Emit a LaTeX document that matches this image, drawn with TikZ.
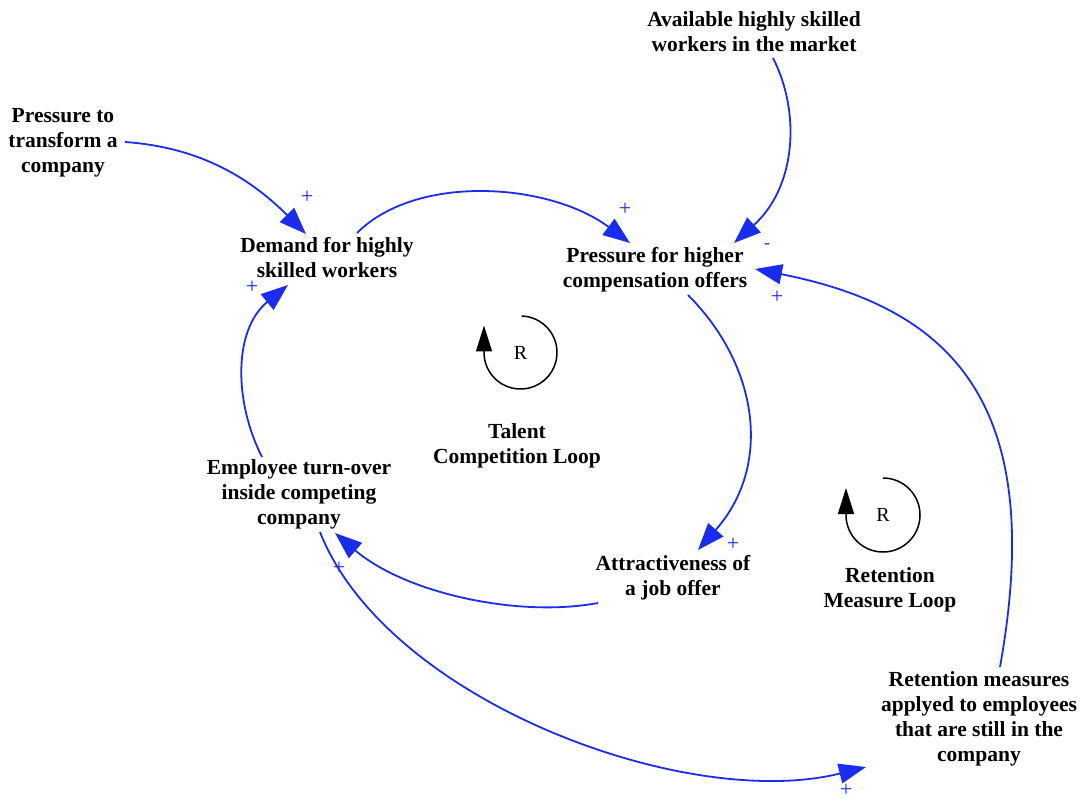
\documentclass[tikz,border=0pt]{standalone}
\usepackage{fontspec}
\setmainfont{Liberation Serif}
\usetikzlibrary{arrows.meta}
\definecolor{linkblue}{RGB}{25,45,240}
\begin{document}
\begin{tikzpicture}[x=1pt,y=-1pt,
  var/.style={font=\fontsize{21.5}{25}\selectfont\bfseries, align=center, inner sep=0pt},
  link/.style={draw=linkblue, line width=1.8pt, -{Triangle[length=27pt,width=20pt]}},
  sign/.style={text=linkblue, font=\fontsize{22}{22}\selectfont, inner sep=0pt},
  loopsym/.style={draw=black, line width=1.5pt, -{Triangle[length=26pt,width=16pt]}},
  loopletter/.style={font=\fontsize{20}{20}\selectfont, inner sep=0pt}]
\useasboundingbox (0,0) rectangle (1081,799);
\fill[white] (0,0) rectangle (1081,799);

% variables
\node[var] (ptt)   at (63,143)  {Pressure to\\transform a\\company};
\node[var] (avail) at (754,32)  {Available highly skilled\\workers in the market};
\node[var] (dem)   at (327,258) {Demand for highly\\skilled workers};
\node[var] (pfh)   at (655,270) {Pressure for higher\\compensation offers};
\node[var] (emp)   at (299,494) {Employee turn-over\\inside competing\\company};
\node[var] (att)   at (673,578) {Attractiveness of\\a job offer};
\node[var] (ret)   at (979,719) {Retention measures\\applyed to employees\\that are still in the\\company};

% loop names
\node[var] (talent)  at (517,446) {Talent\\Competition Loop};
\node[var] (retloop) at (890,590) {Retention\\Measure Loop};

% reinforcing loop symbols
\node[loopletter] (r1) at (520.5,352.5) {R};
\draw[loopsym] ([shift={(-88:36.5)}]r1.center) arc[start angle=-88, end angle=180, radius=36.5] -- ++(0,-27);
\node[loopletter] (r2) at (883,515) {R};
\draw[loopsym] ([shift={(-90:37)}]r2.center) arc[start angle=-90, end angle=180, radius=37] -- ++(0,-27);

% causal links
\draw[link] ([shift={(62,-1)}]ptt.center) .. controls (195,147) and (246,174) .. ([shift={(-21,-24)}]dem.center);
\draw[link] ([shift={(30,-25)}]dem.center) .. controls (417,173) and (550,183) .. ([shift={(-25,-27)}]pfh.center);
\draw[link] ([shift={(19,26)}]avail.center) .. controls (801,113) and (796,187) .. ([shift={(79,-27)}]pfh.center);
\draw[link] ([shift={(21,-52)}]ret.center) .. controls (1046,410) and (958,309) .. ([shift={(100,-1)}]pfh.center);
\draw[link] ([shift={(33,25)}]pfh.center) .. controls (758,365) and (773,465) .. ([shift={(25,-28)}]att.center);
\draw[link] ([shift={(-75,25)}]att.center) .. controls (518,618) and (405,593) .. ([shift={(36,39)}]emp.center);
\draw[link] ([shift={(-37,-37)}]emp.center) .. controls (234,402) and (233,330) .. ([shift={(-39,27)}]dem.center);
\draw[link] ([shift={(21,38)}]emp.center) .. controls (386,700) and (686,812) .. ([shift={(-113,48)}]ret.center);

% link polarities
\node[sign] (p1) at (307,197) {+};
\node[sign] (p2) at (625,209) {+};
\node[sign, font=\fontsize{18}{18}\selectfont] (m3) at (767,246) {-};
\node[sign] (p4) at (777,297) {+};
\node[sign] (p5) at (733,544) {+};
\node[sign] (p6) at (339,568) {+};
\node[sign] (p7) at (252,287) {+};
\node[sign] (p8) at (846,790) {+};
\end{tikzpicture}
\end{document}
